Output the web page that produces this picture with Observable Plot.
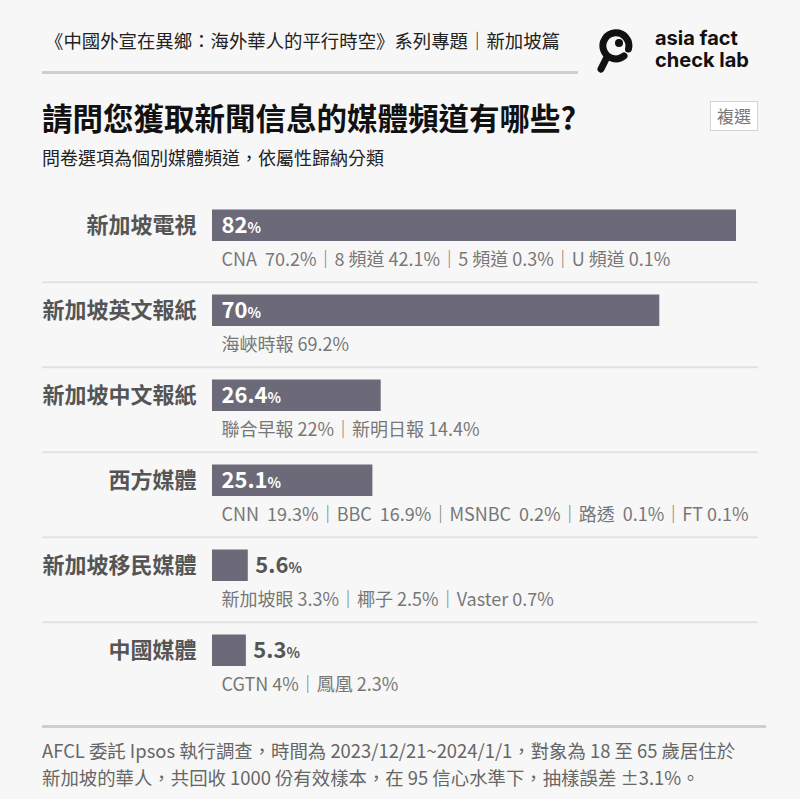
<!DOCTYPE html>
<html>
<head>
<meta charset="utf-8">
<script src="https://cdn.jsdelivr.net/npm/d3@7"></script>
<script src="https://cdn.jsdelivr.net/npm/@observablehq/plot@0.6"></script>
<style>
  body { margin: 0; background: #f7f7f7; }
  #root { position: relative; width: 800px; height: 799px; overflow: hidden; font-family: 'Noto Sans CJK TC', 'Noto Sans', sans-serif; }
  .abs { position: absolute; white-space: nowrap; }
</style>
</head>
<body>
<div id="root">
  <div class="abs" style="left:45px;top:28px;font-size:18.4px;line-height:24px;color:#222;">《中國外宣在異鄉：海外華人的平行時空》系列專題｜新加坡篇</div>
  <div class="abs" style="left:42px;top:71px;width:536px;height:3px;background:#cfcfcf;"></div>
  <svg class="abs" style="left:590px;top:22px;" width="180" height="56" viewBox="0 0 180 56">
    <path d="M 38.5 27 A 13 13 0 1 0 34 34" fill="none" stroke="#111" stroke-width="7" stroke-linecap="round"/>
    <circle cx="29" cy="21" r="4" fill="#111"/>
    <line x1="16" y1="37" x2="11" y2="47" stroke="#111" stroke-width="7" stroke-linecap="round"/>
  </svg>
  <div class="abs" style="left:655px;top:27px;font-family:Inter,'Noto Sans',sans-serif;font-weight:700;font-size:20px;line-height:22px;color:#111;">asia fact<br>check lab</div>
  <div class="abs" style="left:42px;top:99px;font-size:30.5px;line-height:36px;font-weight:700;color:#111;">請問您獲取新聞信息的媒體頻道有哪些?</div>
  <div class="abs" style="left:710px;top:101px;width:46px;height:28px;border:1px solid #d4d4d4;background:#fff;font-size:17px;line-height:28px;text-align:center;color:#777;">複選</div>
  <div class="abs" style="left:42px;top:146px;font-size:18px;line-height:22px;color:#222;">問卷選項為個別媒體頻道，依屬性歸納分類</div>
  <div id="chart" class="abs" style="left:0;top:185px;"></div>
  <div class="abs" style="left:42px;top:725px;width:724px;height:3px;background:#cfcfcf;"></div>
  <div class="abs" style="left:42px;top:737px;font-size:18.4px;line-height:27px;color:#666;">AFCL 委託 Ipsos 執行調查，時間為 2023/12/21~2024/1/1，對象為 18 至 65 歲居住於<br>新加坡的華人，共回收 1000 份有效樣本，在 95 信心水準下，抽樣誤差 ±3.1%。</div>
</div>
<script>
const categories = ["新加坡電視", "新加坡英文報紙", "新加坡中文報紙", "西方媒體", "新加坡移民媒體", "中國媒體"];
const values = [82, 70, 26.4, 25.1, 5.6, 5.3];
const details = [
  "CNA\u00a0 70.2%｜8 頻道 42.1%｜5 頻道 0.3%｜U 頻道 0.1%",
  "海峽時報 69.2%",
  "聯合早報 22%｜新明日報 14.4%",
  "CNN\u00a0 19.3%｜BBC\u00a0 16.9%｜MSNBC\u00a0 0.2%｜路透\u00a0 0.1%｜FT 0.1%",
  "新加坡眼 3.3%｜椰子 2.5%｜Vaster 0.7%",
  "CGTN 4%｜鳳凰 2.3%"
];

const rows = categories.map((c, i) => ({cat: c, value: values[i], detail: details[i]}));
const rowH = 85.5;
const half = rowH / 2;
const barTop = 12.5, barH = 32;

const chart = Plot.plot({
  width: 800,
  height: 535,
  marginTop: 10.5,
  marginBottom: 11.5,
  marginLeft: 212,
  marginRight: 64,
  style: {fontFamily: "'Noto Sans CJK TC', 'Noto Sans', sans-serif", background: "transparent", overflow: "visible"},
  x: {domain: [0, 82], axis: null},
  y: {domain: categories, padding: 0, axis: null},
  marks: [
    Plot.ruleY(categories.slice(1), {y: d => d, dy: -half, insetLeft: -170, insetRight: -22, stroke: "#e2e2e2", strokeWidth: 2}),
    Plot.ruleX(rows, {x: 0, y: "cat", insetTop: barTop, insetBottom: rowH - barTop - 60, stroke: "#666", strokeWidth: 1.5}),
    Plot.barX(rows, {x: "value", y: "cat", insetTop: barTop, insetBottom: rowH - barTop - barH, fill: "#6c6a78"}),
    Plot.text(rows, {x: 0, y: "cat", text: "cat", textAnchor: "end", dx: -16, dy: barTop + barH / 2 - half, fontSize: 22, fontWeight: "bold", fill: "#555"}),
    Plot.text(rows.filter(d => d.value >= 20), {x: 0, y: "cat", text: d => d.value + "%", textAnchor: "start", dx: 9, dy: barTop + barH / 2 - half, fontSize: 22, fontWeight: "bold", fill: "#fff"}),
    Plot.text(rows.filter(d => d.value < 20), {x: "value", y: "cat", text: d => d.value + "%", textAnchor: "start", dx: 7, dy: barTop + barH / 2 - half, fontSize: 22, fontWeight: "bold", fill: "#555"}),
    Plot.text(rows, {x: 0, y: "cat", text: "detail", textAnchor: "start", dx: 9, dy: barTop + barH + 18 - half, fontSize: 18, fill: "#777"})
  ]
});

chart.querySelectorAll("text").forEach(t => {
  const m = /^([\d.]+)%$/.exec(t.textContent);
  if (m) {
    t.textContent = m[1];
    const ts = document.createElementNS("http://www.w3.org/2000/svg", "tspan");
    ts.setAttribute("font-size", "14");
    ts.textContent = "%";
    t.appendChild(ts);
  }
});

document.getElementById("chart").appendChild(chart);
</script>
</body>
</html>
